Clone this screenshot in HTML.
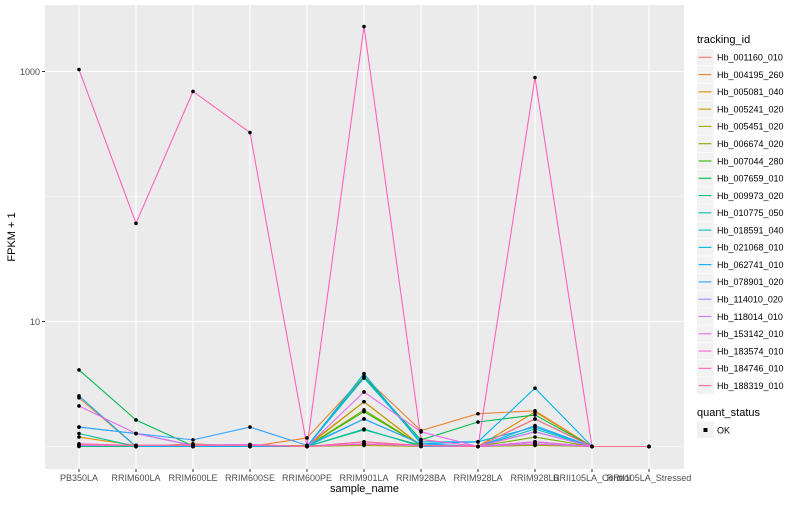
<!DOCTYPE html>
<html><head><meta charset="utf-8"><style>
body{margin:0;background:#fff;width:800px;height:500px;overflow:hidden}
svg text{font-family:"Liberation Sans",sans-serif}
</style></head><body>
<svg id="chart" width="800" height="500"></svg>
<script>
const categories=["PB350LA","RRIM600LA","RRIM600LE","RRIM600SE","RRIM600PE","RRIM901LA","RRIM928BA","RRIM928LA","RRIM928LB","RRII105LA_Control","RRII105LA_Stressed"];
const seriesIds=["Hb_001160_010","Hb_004195_260","Hb_005081_040","Hb_005241_020","Hb_005451_020","Hb_006674_020","Hb_007044_280","Hb_007659_010","Hb_009973_020","Hb_010775_050","Hb_018591_040","Hb_021068_010","Hb_062741_010","Hb_078901_020","Hb_114010_020","Hb_118014_010","Hb_153142_010","Hb_183574_010","Hb_184746_010","Hb_188319_010"];
const seriesColors=["#F8766D","#EA8331","#D89000","#C09B00","#A3A500","#7CAE00","#39B600","#00BB4E","#00BF7D","#00C1A3","#00BFC4","#00BAE0","#00B0F6","#35A2FF","#9590FF","#C77CFF","#E76BF3","#FA62DB","#FF62BC","#FF6C91"];
const s01=[1.03,1.02,1.02,1.02,1.01,1.04,1.02,1.0,1.03,1,1];
const s02=[2.45,1.0,1.05,1.0,1.17,3.62,1.34,1.83,1.93,1,1];
const s03=[1.19,1.02,1.02,1.01,1.02,2.28,1.02,1.0,1.89,1,1];
const s04=[1.02,1.01,1.01,1.01,1.0,2.28,1.01,1.0,1.05,1,1];
const s05=[1.01,1.0,1.0,1.0,1.0,1.02,1.0,1.0,1.02,1,1];
const s06=[1.02,1.0,1.01,1.0,1.0,1.96,1.02,1.0,1.19,1,1];
const s07=[1.01,1.0,1.0,1.0,1.0,1.90,1.02,1.0,1.66,1,1];
const s08=[4.1,1.63,1.01,1.0,1.0,3.62,1.13,1.57,1.79,1,1];
const s09=[1.0,1.0,1.0,1.0,1.0,1.36,1.02,1.0,1.09,1,1];
const s10=[1.27,1.0,1.0,1.0,1.0,1.38,1.0,1.0,1.31,1,1];
const s11=[1.02,1.01,1.01,1.0,1.0,1.66,1.05,1.0,1.38,1,1];
const s12=[1.43,1.27,1.02,1.01,1.0,3.53,1.09,1.09,1.43,1,1];
const s13=[2.54,1.0,1.0,1.0,1.0,3.83,1.05,1.09,2.93,1,1];
const s14=[1.43,1.27,1.13,1.43,1.02,1.66,1.05,1.0,1.47,1,1];
const s15=[1.02,1.02,1.02,1.03,1.0,1.09,1.01,1.0,1.09,1,1];
const s16=[1.02,1.02,1.03,1.04,1.0,1.05,1.01,1.0,1.05,1,1];
const s17=[2.11,1.27,1.02,1.03,1.0,2.73,1.31,1.0,1.31,1,1];
const s18=[1.05,1.02,1.02,1.03,1.0,1.05,1.02,1.0,1.09,1,1];
const s19=[1037,61,692,325,1.0,2290,1.14,1.0,895,1,1];
const s20=[1.04,1.02,1.02,1.02,1.0,1.09,1.02,1.0,1.66,1,1];
const seriesValues=[s01,s02,s03,s04,s05,s06,s07,s08,s09,s10,s11,s12,s13,s14,s15,s16,s17,s18,s19,s20];
const yTicks=[10,1000];
const yTickLabels=["10","1000"];
const yMinor=[1,100];

const NS="http://www.w3.org/2000/svg";
const svg=document.getElementById('chart');
const P={l:45,r:684,t:5,b:469};
function xPos(i){return 79+57*i;}
function yPos(v){return 71.5+125*(3-Math.log10(v));}
function mk(tag,attrs,parent){const e=document.createElementNS(NS,tag);for(const k in attrs)e.setAttribute(k,attrs[k]);(parent||svg).appendChild(e);return e;}

const panel=mk('rect',{x:P.l,y:P.t,width:P.r-P.l,height:P.b-P.t,fill:'#EBEBEB'});


yMinor.forEach(v=>{const g=mk('line',{x1:P.l,x2:P.r,y1:yPos(v),y2:yPos(v),stroke:'#fff','stroke-width':0.5});

});
yTicks.forEach((v,i)=>{const y=yPos(v);
const g=mk('line',{x1:P.l,x2:P.r,y1:y,y2:y,stroke:'#fff','stroke-width':1.1});


mk('line',{x1:P.l-3,x2:P.l,y1:y,y2:y,stroke:'#333','stroke-width':1});
const t=mk('text',{x:P.l-5,y:y+3.5,'text-anchor':'end','font-size':9,fill:'#4D4D4D'});t.textContent=yTickLabels[i];

});
categories.forEach((c,i)=>{const x=xPos(i);
const g=mk('line',{x1:x,x2:x,y1:P.t,y2:P.b,stroke:'#fff','stroke-width':1.1});


mk('line',{x1:x,x2:x,y1:P.b,y2:P.b+3,stroke:'#333','stroke-width':1});
const t=mk('text',{x:x,y:P.b+12,'text-anchor':'middle','font-size':9,fill:'#4D4D4D'});t.textContent=c;

});

seriesValues.forEach((vals,si)=>{
const pts=vals.map((v,i)=>xPos(i)+','+yPos(v)).join(' ');
const pl=mk('polyline',{points:pts,fill:'none',stroke:seriesColors[si],'stroke-width':1.1});

});
seriesValues.forEach((vals,si)=>{vals.forEach((v,i)=>{
const r=mk('circle',{cx:xPos(i),cy:yPos(v),r:1.8,fill:'#000'});

});});

const xt=mk('text',{x:(P.l+P.r)/2,y:492,'text-anchor':'middle','font-size':11,fill:'#000'});xt.textContent='sample_name';


const yt=mk('text',{x:0,y:0,transform:'translate(15,'+((P.t+P.b)/2)+') rotate(-90)','text-anchor':'middle','font-size':11,fill:'#000'});yt.textContent='FPKM + 1';



const lt=mk('text',{x:697,y:43,'font-size':11,fill:'#000'});lt.textContent='tracking_id';


seriesIds.forEach((id,i)=>{const cy=57.3+17.28*i;
const g=mk('g',{});


mk('rect',{x:697,y:cy-8.3,width:16.6,height:16.6,fill:'#F2F2F2'},g);
mk('line',{x1:698.5,x2:711.5,y1:cy,y2:cy,stroke:seriesColors[i],'stroke-width':1.1},g);
const t=mk('text',{x:717,y:cy+3.3,'font-size':9,fill:'#000'},g);t.textContent=id;});
const qt=mk('text',{x:697,y:416,'font-size':11,fill:'#000'});qt.textContent='quant_status';


const qg=mk('g',{});


mk('rect',{x:697,y:421.5,width:16.6,height:16.6,fill:'#F2F2F2'},qg);
mk('rect',{x:703.5,y:428,width:4,height:4,fill:'#000'},qg);
const ok=mk('text',{x:717,y:433.5,'font-size':9,fill:'#000'},qg);ok.textContent='OK';
</script>
</body></html>
